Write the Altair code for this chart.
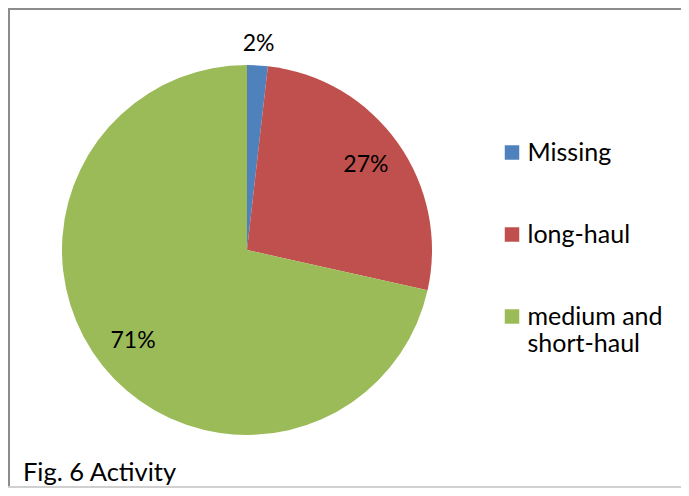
import altair as alt
import pandas as pd

categories = ["Missing", "long-haul", "medium and short-haul"]
shares = [1.8, 26.7, 71.5]
pct_labels = ["2%", "27%", "71%"]
colors = ["#4F81BD", "#C0504D", "#9BBB59"]
order = [0, 1, 2]

df = pd.DataFrame({"cat": categories, "share": shares, "label": pct_labels, "idx": order})

FONT = "Lato"
CX, CY, R = 239, 242, 185

base = alt.Chart(df).encode(
    theta=alt.Theta("share:Q", stack=True),
    order=alt.Order("idx:Q", sort="ascending"),
)

color_enc = alt.Color(
    "cat:N",
    scale=alt.Scale(domain=categories, range=colors),
    legend=alt.Legend(
        title=None,
        orient="none",
        legendX=491.5,
        legendY=132,
        padding=0,
        symbolType="square",
        symbolSize=210,
        symbolStrokeWidth=0,
        labelFont=FONT,
        labelFontSize=25,
        labelColor="#000000",
        labelOffset=3,
        labelLimit=400,
        rowPadding=56,
        labelExpr="datum.label == 'medium and short-haul' ? ['medium and', 'short-haul'] : datum.label",
    ),
)

pie = base.mark_arc(outerRadius=R, stroke=None).encode(
    color=color_enc,
    x=alt.value(CX),
    y=alt.value(CY),
)

inner = base.mark_text(
    radius=146, font=FONT, fontSize=23, color="#000000", align="center", baseline="middle"
).encode(
    text=alt.condition(alt.datum.cat == "Missing", alt.value(""), alt.Text("label:N")),
    x=alt.value(CX),
    y=alt.value(CY),
)

outer = base.mark_text(
    radius=206, font=FONT, fontSize=23, color="#000000", align="center", baseline="middle"
).encode(
    text=alt.condition(alt.datum.cat == "Missing", alt.Text("label:N"), alt.value("")),
    x=alt.value(CX),
    y=alt.value(CY),
)

border_left = alt.Chart(df).mark_rule(color="#8c8c8c", strokeWidth=2).encode(
    x=alt.value(1), y=alt.value(0), y2=alt.value(480)
)
border_top = alt.Chart(df).mark_rule(color="#8c8c8c", strokeWidth=2).encode(
    x=alt.value(0), x2=alt.value(673), y=alt.value(1)
)
border_bottom = alt.Chart(df).mark_rule(color="#d0d0d0", strokeWidth=2).encode(
    x=alt.value(0), x2=alt.value(673), y=alt.value(479)
)

chart = (
    alt.layer(pie, inner, outer, border_left, border_top, border_bottom)
    .properties(
        width=673,
        height=480,
        padding=0,
        autosize=alt.AutoSizeParams(type="none"),
        background="#ffffff",
        title=alt.TitleParams(
            "Fig. 6 Activity",
            orient="bottom",
            anchor="start",
            font=FONT,
            fontSize=25.5,
            fontWeight="normal",
            color="#000000",
            offset=-28,
            dx=15,
            frame="group",
        ),
    )
    .configure_view(stroke=None)
)

chart.save("out.html", embed_options={"renderer": "svg", "actions": False})
